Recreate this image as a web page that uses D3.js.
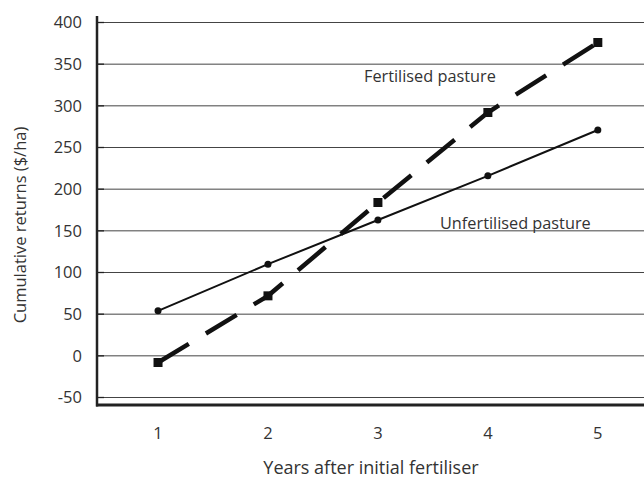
<!DOCTYPE html>
<html>
<head>
<meta charset="utf-8">
<script src="https://cdn.jsdelivr.net/npm/d3@7"></script>
<style>
  body { margin: 0; background: #fff; }
  text { font-family: "Open Sans", "Noto Sans", sans-serif; fill: #333; }
</style>
</head>
<body>
<svg></svg>
<script>
// data
var years = [1, 2, 3, 4, 5];
var unfertilised = [54, 110, 163, 216, 271];
var fertilised = [-8, 72, 184, 292, 376];
var yTicks = [-50, 0, 50, 100, 150, 200, 250, 300, 350, 400];

var svgWidth = 644, svgHeight = 479;
var svg = d3.select("svg")
    .attr("width", svgWidth)
    .attr("height", svgHeight);

var xScale = d3.scaleLinear()
    .domain([0.445, 5.42])
    .range([97, 644]);

var yScale = d3.scaleLinear()
    .domain([-50, 400])
    .range([397.5, 22.5]);

var axisBottomY = 405;

//gridlines
svg.append("g").selectAll("line")
    .data(yTicks)
    .enter().append("line")
    .attr("x1", 97).attr("x2", 644)
    .attr("y1", function(d) { return yScale(d); })
    .attr("y2", function(d) { return yScale(d); })
    .attr("stroke", "#444")
    .attr("stroke-width", 1);

//small inward ticks
svg.append("g").selectAll("line")
    .data(yTicks)
    .enter().append("line")
    .attr("x1", 97).attr("x2", 104)
    .attr("y1", function(d) { return yScale(d); })
    .attr("y2", function(d) { return yScale(d); })
    .attr("stroke", "#222")
    .attr("stroke-width", 1.3);

//tick labels
svg.append("g").selectAll("text")
    .data(yTicks)
    .enter().append("text")
    .attr("x", 82)
    .attr("y", function(d) { return yScale(d); })
    .attr("dy", "0.36em")
    .attr("text-anchor", "end")
    .attr("font-size", 16.5)
    .text(function(d) { return d; });

svg.append("g").selectAll("text")
    .data(years)
    .enter().append("text")
    .attr("x", function(d) { return xScale(d); })
    .attr("y", 439)
    .attr("text-anchor", "middle")
    .attr("font-size", 16.5)
    .text(function(d) { return d; });

//axes lines
svg.append("line")
    .attr("x1", 97).attr("x2", 97)
    .attr("y1", 16).attr("y2", axisBottomY + 1.5)
    .attr("stroke", "#222").attr("stroke-width", 2.5);
svg.append("line")
    .attr("x1", 96).attr("x2", 644)
    .attr("y1", axisBottomY).attr("y2", axisBottomY)
    .attr("stroke", "#222").attr("stroke-width", 3);

//axis titles
svg.append("text")
    .attr("transform", "translate(26,225) rotate(-90)")
    .attr("text-anchor", "middle")
    .attr("font-size", 16.5)
    .text("Cumulative returns ($/ha)");

svg.append("text")
    .attr("x", 371)
    .attr("y", 474)
    .attr("text-anchor", "middle")
    .attr("font-size", 18)
    .text("Years after initial fertiliser");

var line = d3.line()
    .x(function(d) { return xScale(d[0]); })
    .y(function(d) { return yScale(d[1]); });

//unfertilised - solid
svg.append("path")
    .attr("d", line(d3.zip(years, unfertilised)))
    .attr("fill", "none")
    .attr("stroke", "#111")
    .attr("stroke-width", 2);
svg.append("g").selectAll("circle")
    .data(d3.zip(years, unfertilised))
    .enter().append("circle")
    .attr("cx", function(d) { return xScale(d[0]); })
    .attr("cy", function(d) { return yScale(d[1]); })
    .attr("r", 3.5)
    .attr("fill", "#111");

//fertilised - dashed
svg.append("path")
    .attr("d", line(d3.zip(years, fertilised)))
    .attr("fill", "none")
    .attr("stroke", "#111")
    .attr("stroke-width", 4.5)
    .attr("stroke-dasharray", "36,20");
svg.append("g").selectAll("rect")
    .data(d3.zip(years, fertilised))
    .enter().append("rect")
    .attr("x", function(d) { return xScale(d[0]) - 4.5; })
    .attr("y", function(d) { return yScale(d[1]) - 4.5; })
    .attr("width", 9)
    .attr("height", 9)
    .attr("fill", "#111");

//series labels
svg.append("text")
    .attr("x", 364).attr("y", 82)
    .attr("font-size", 16.3)
    .text("Fertilised pasture");
svg.append("text")
    .attr("x", 440).attr("y", 229)
    .attr("font-size", 16.3)
    .text("Unfertilised pasture");
</script>
</body>
</html>
